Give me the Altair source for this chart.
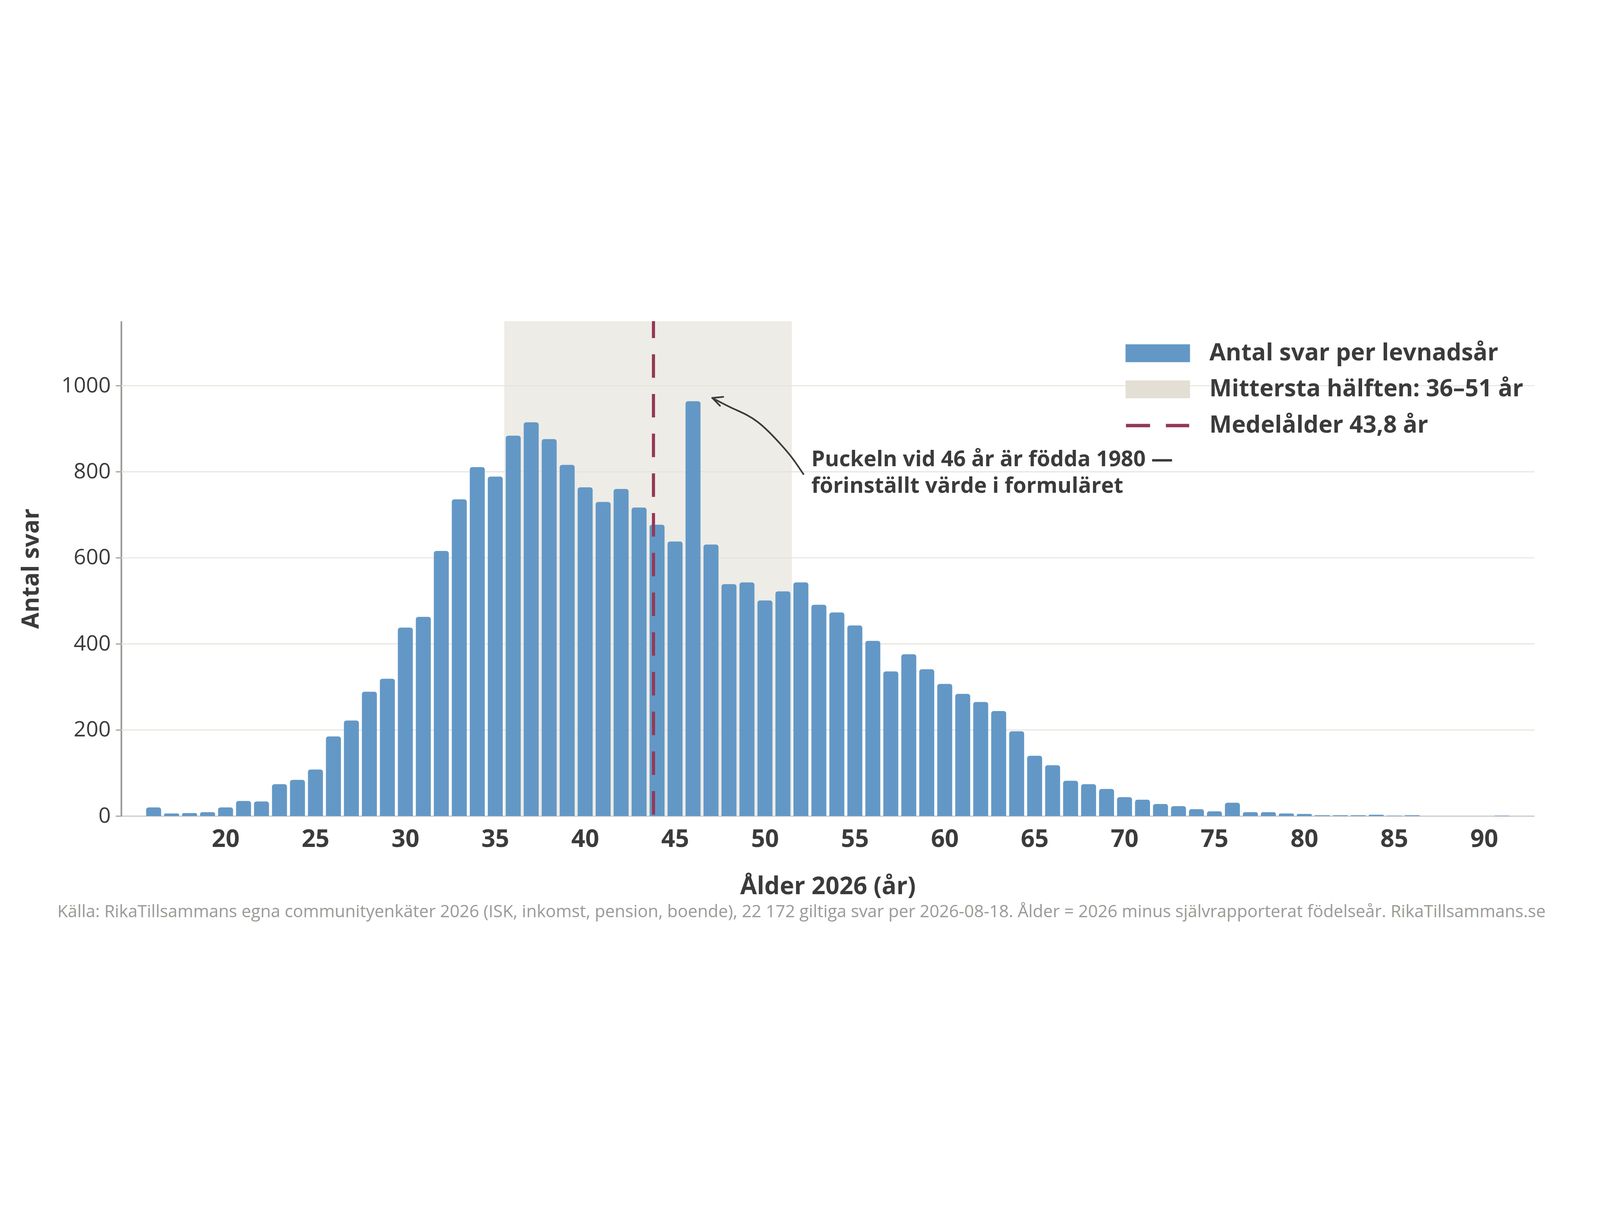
import altair as alt
import pandas as pd

# ---------------- data ----------------
ages = list(range(16, 92))
counts = [20, 6, 7, 9, 20, 35, 34, 74, 84, 108,
          185, 222, 289, 319, 438, 463, 616, 736, 811, 789,
          884, 915, 876, 816, 764, 730, 760, 717, 677, 638,
          964, 631, 539, 543, 501, 522, 543, 491, 473, 443,
          407, 336, 376, 341, 307, 284, 265, 244, 197, 140,
          118, 82, 74, 63, 44, 38, 28, 23, 16, 11,
          31, 9, 9, 6, 5, 2, 2, 2, 3, 1, 2, 0, 0, 0, 0, 1]

series = ["Antal svar per levnadsår", "Mittersta hälften: 36–51 år", "Medelålder 43,8 år"]
series_colors = ["#6398C6", "#E3DFD5", "#933856"]

band_edges = [35.5, 51.5]          # middle half, 36–51 år
mean_age = 43.8

x_ticks = [20, 25, 30, 35, 40, 45, 50, 55, 60, 65, 70, 75, 80, 85, 90]
y_ticks = [0, 200, 400, 600, 800, 1000]
grid_vals = [200, 400, 600, 800, 1000]

# annotation arrow (tail -> tip), read in data units
arrow_age = [52.14, 51.59, 50.93, 49.60, 48.27, 47.07]
arrow_cnt = [794.6, 828.0, 861.4, 915.7, 946.2, 971.7]
ann_pos = (52.58, 813.0)
ann_text = "Puckeln vid 46 år är födda 1980 —\nförinställt värde i formuläret"

footer = ("Källa: RikaTillsammans egna communityenkäter 2026 (ISK, inkomst, pension, boende), "
          "22 172 giltiga svar per 2026-08-18. Ålder = 2026 minus självrapporterat födelseår. "
          "RikaTillsammans.se")

# ---------------- styling ----------------
W, H = 6794, 2380
FONT = "Open Sans"
TXT = "#3B3B3B"
BAR_C, SHADE_C, MEAN_C = series_colors

bars_df = pd.DataFrame({"age": ages, "n": counts})
shade_df = pd.DataFrame({"lo": [band_edges[0]], "hi": [band_edges[1]]})
mean_df = pd.DataFrame({"age": [mean_age]})
grid_df = pd.DataFrame({"v": grid_vals})
arrow_df = pd.DataFrame({"a": arrow_age, "c": arrow_cnt, "i": list(range(len(arrow_age)))})
head_df = pd.DataFrame({"a": [arrow_age[-1]], "c": [arrow_cnt[-1]]})
ann_df = pd.DataFrame({"a": [ann_pos[0]], "c": [ann_pos[1]], "t": [ann_text]})
foot_df = pd.DataFrame({"t": [footer]})
# legend carrier: one entry per series, placed outside the x domain (clipped, invisible)
leg_df = pd.DataFrame({"serie": series, "a": [-50] * 3, "c": [500] * 3})

x_scale = alt.Scale(domain=[14.2, 92.8], nice=False, zero=False)
y_scale = alt.Scale(domain=[0, 1150], nice=False)

x_axis = alt.Axis(
    title="Ålder 2026 (år)", values=x_ticks, format="d", grid=False, ticks=False, tickSize=0,
    labelPadding=149, labelBaseline="alphabetic", labelFont=FONT, labelFontSize=117,
    labelFontWeight="bold", labelColor=TXT, labelFlush=False, labelLimit=1000,
    domainColor="#C9C5BC", domainWidth=5,
    titleFont=FONT, titleFontSize=117, titleFontWeight="bold", titleColor=TXT,
    titleY=375, titleBaseline="alphabetic")

y_axis = alt.Axis(
    title="Antal svar", values=y_ticks, format="d", grid=False,
    labelFont=FONT, labelFontSize=104, labelFontWeight="normal", labelColor=TXT,
    labelPadding=24, labelLimit=1000, tickSize=27, tickWidth=5, tickColor="#999B95",
    domainColor="#999B95", domainWidth=8,
    titleFont=FONT, titleFontSize=114, titleFontWeight="bold", titleColor=TXT,
    titleAngle=270, titleX=-398, titleY=H / 2, titleBaseline="alphabetic", titleAlign="center")

RECT = "M-1,-0.741H4.345V0.741H-1Z"
DASH = "M-0.966,-0.142H1.034V0.142H-0.966ZM2.345,-0.142H4.276V0.142H2.345Z"

legend = alt.Legend(
    title=None, orient="none", legendX=4828, legendY=96, padding=0,
    labelFont=FONT, labelFontSize=114, labelFontWeight="bold", labelColor=TXT,
    labelLimit=4000, labelOffset=287, rowPadding=59,
    symbolSize=13456, symbolStrokeWidth=0, symbolOpacity=1)

legend_layer = alt.Chart(leg_df).mark_point(
    filled=True, opacity=1, size=13456, strokeWidth=0, clip=True
).encode(
    x=alt.X("a:Q", scale=x_scale, axis=x_axis),
    y=alt.Y("c:Q", scale=y_scale, axis=y_axis),
    color=alt.Color("serie:N", scale=alt.Scale(domain=series, range=series_colors), legend=legend),
    shape=alt.Shape("serie:N", scale=alt.Scale(domain=series, range=[RECT, RECT, DASH]), legend=legend),
)

shade = alt.Chart(shade_df).mark_rect(color=SHADE_C, opacity=0.6).encode(
    x=alt.X("lo:Q", scale=x_scale, axis=x_axis),
    x2="hi:Q",
)

grid = alt.Chart(grid_df).mark_rule(color="#E6E2D9", strokeWidth=4.5).encode(
    y=alt.Y("v:Q", scale=y_scale, axis=y_axis)
)

bars = alt.Chart(bars_df).transform_calculate(
    x0="datum.age - 0.4165", x1="datum.age + 0.4165"
).mark_bar(color=BAR_C, cornerRadiusTopLeft=12, cornerRadiusTopRight=12).encode(
    x=alt.X("x0:Q", scale=x_scale, axis=x_axis),
    x2="x1:Q",
    y=alt.Y("n:Q", scale=y_scale, axis=y_axis),
    y2=alt.datum(0),
)

mean = alt.Chart(mean_df).mark_rule(
    color=MEAN_C, strokeWidth=15, strokeDash=[113, 78], strokeDashOffset=32
).encode(
    x=alt.X("age:Q", scale=x_scale, axis=x_axis),
)

arrow = alt.Chart(arrow_df).mark_line(
    color=TXT, strokeWidth=8, interpolate="natural", strokeCap="round"
).encode(
    x=alt.X("a:Q", scale=x_scale, axis=x_axis),
    y=alt.Y("c:Q", scale=y_scale, axis=y_axis),
    order="i:Q",
)

head = alt.Chart(head_df).mark_point(
    shape="M-0.477,1L0,0L0.477,1", size=9160, angle=290, filled=False,
    color=TXT, strokeWidth=8, opacity=1, strokeCap="round", strokeJoin="round"
).encode(
    x=alt.X("a:Q", scale=x_scale, axis=x_axis),
    y=alt.Y("c:Q", scale=y_scale, axis=y_axis),
)

ann = alt.Chart(ann_df).mark_text(
    align="left", baseline="alphabetic", font=FONT, fontSize=104, fontWeight="bold",
    color=TXT, lineBreak="\n", lineHeight=128
).encode(
    x=alt.X("a:Q", scale=x_scale, axis=x_axis),
    y=alt.Y("c:Q", scale=y_scale, axis=y_axis),
    text="t:N",
)

foot = alt.Chart(foot_df).mark_text(
    align="center", baseline="alphabetic", font=FONT, fontSize=82, color="#9A9B96"
).encode(
    x=alt.value(3846 - 576), y=alt.value(3032 - 165), text="t:N"
)

chart = alt.layer(legend_layer, shade, grid, bars, mean, arrow, head, ann, foot).properties(
    width=W, height=H,
    padding={"left": 568, "top": 157, "right": 300, "bottom": 590},
    autosize=alt.AutoSizeParams(type="none"),
).configure(font=FONT).configure_view(stroke=None)

chart.save("out.html", embed_options={"renderer": "svg", "actions": False})
